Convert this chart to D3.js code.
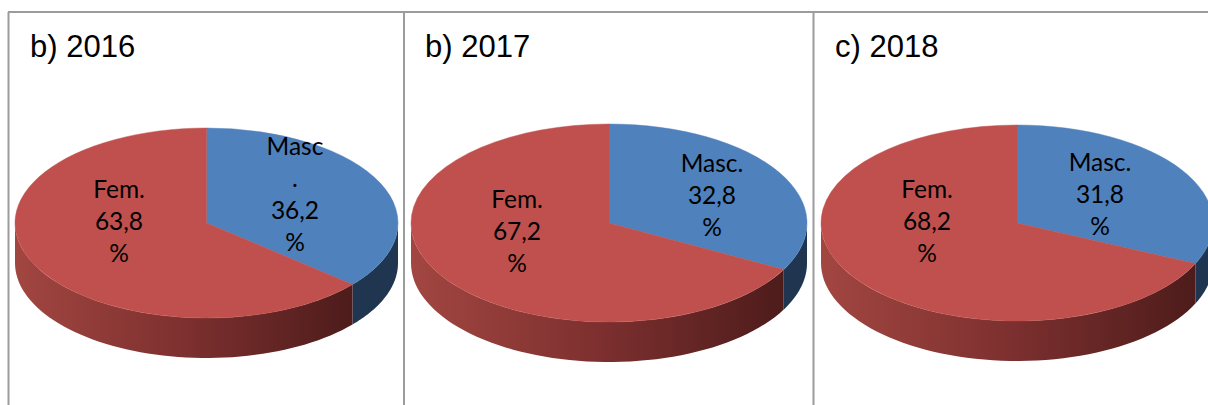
<!DOCTYPE html>
<html>
<head>
<meta charset="utf-8">
<title>2016 - 2018</title>
<script src="https://cdnjs.cloudflare.com/ajax/libs/d3/7.8.5/d3.min.js"></script>
<style>
	html, body { margin: 0; padding: 0; background: #fff; overflow: hidden; }
	svg { display: block; }
	.panel_title { font-family: "Liberation Sans", Arial, sans-serif; font-size: 31px; fill: #000; }
	.slice_label { font-family: Lato, Carlito, sans-serif; font-size: 24.5px; fill: #000; text-anchor: middle; }
</style>
</head>
<body>
<figure id="pies" style="margin:0"></figure>
<script>
// values
var years = [ "b) 2016", "b) 2017", "c) 2018" ];
var categories = [ "Masc.", "Fem." ];
var mascValues = [ 36.2, 32.8, 31.8 ];
var femValues = [ 63.8, 67.2, 68.2 ];
var mascLabels = [ [ "Masc", ".", "36,2", "%" ], [ "Masc.", "32,8", "%" ], [ "Masc.", "31,8", "%" ] ];
var femLabels = [ [ "Fem.", "63,8", "%" ], [ "Fem.", "67,2", "%" ], [ "Fem.", "68,2", "%" ] ];

var dimensions = { width: 1208, height: 405, depth: 40, lineHeight: 32 };

// where each pie sits
var layout = [
	{ cx: 206.5, cy: 223, rx: 191.5, ry: 95, titleX: 30, mascX: 295, mascY: 155, femX: 119, femY: 198 },
	{ cx: 609, cy: 223, rx: 198, ry: 99, titleX: 425, mascX: 712, mascY: 172, femX: 517, femY: 208 },
	{ cx: 1017, cy: 223, rx: 196, ry: 98, titleX: 835, mascX: 1100, mascY: 171, femX: 927, femY: 198 }
];

var topColors = d3.scaleOrdinal().domain( categories ).range( [ "#4f81bd", "#c0504d" ] );

var svg = d3.select( "figure#pies" )
	.append( "svg" )
	.attr( "width", dimensions.width )
	.attr( "height", dimensions.height )
	.attr( "viewBox", `0 0 ${dimensions.width} ${dimensions.height}` );

// dark shading on the red wall, lighter on the left
var gradient = svg.append( "defs" )
	.append( "linearGradient" )
	.attr( "id", "femWall" );
gradient.append( "stop" ).attr( "offset", "0%" ).attr( "stop-color", "#a24641" );
gradient.append( "stop" ).attr( "offset", "50%" ).attr( "stop-color", "#7d302f" );
gradient.append( "stop" ).attr( "offset", "100%" ).attr( "stop-color", "#4d1c1b" );

// the table frame
var frame = svg.append( "g" )
	.attr( "class", "frame" )
	.attr( "stroke", "#9c9c9c" )
	.attr( "stroke-width", 2 );
frame.append( "line" ).attr( "x1", 8 ).attr( "x2", 1208 ).attr( "y1", 12 ).attr( "y2", 12 );
[ 8.5, 404, 813.5 ].forEach( function( x ) {
	frame.append( "line" ).attr( "x1", x ).attr( "x2", x ).attr( "y1", 12 ).attr( "y2", 405 );
} );

var pie = d3.pie()
	.value( d => d.value )
	.sortValues( null )
	.sort( null );

// wall of the pie between two angles (0 = 12 o'clock, clockwise)
function wallPath( a0, a1, p ) {
	var steps = d3.range( 0, 61 ).map( i => a0 + ( a1 - a0 ) * i / 60 );
	var top = steps.map( a => [ p.rx * Math.sin( a ), -p.ry * Math.cos( a ) ] );
	var bottom = steps.slice().reverse().map( a => [ p.rx * Math.sin( a ), -p.ry * Math.cos( a ) + dimensions.depth ] );
	return d3.line()( top.concat( bottom ) ) + "Z";
}

years.forEach( function( year, i ) {
	var p = layout[ i ];
	var data = [
		{ name: categories[ 0 ], value: mascValues[ i ], label: mascLabels[ i ], x: p.mascX, y: p.mascY },
		{ name: categories[ 1 ], value: femValues[ i ], label: femLabels[ i ], x: p.femX, y: p.femY }
	];
	var slices = pie( data );
	var split = slices[ 0 ].endAngle;

	var g = svg.append( "g" )
		.attr( "transform", `translate(${p.cx},${p.cy})` );

	// front walls first, the top face goes over them
	g.append( "path" )
		.attr( "d", wallPath( Math.PI / 2, split, p ) )
		.attr( "fill", "#1f3550" );
	g.append( "path" )
		.attr( "d", wallPath( split, Math.PI * 1.5, p ) )
		.attr( "fill", "url(#femWall)" );

	// circle arc squashed into an ellipse
	var arc = d3.arc().innerRadius( 0 ).outerRadius( p.rx );
	g.append( "g" )
		.attr( "transform", `scale(1,${p.ry / p.rx})` )
		.selectAll( "path" )
		.data( slices )
		.enter()
		.append( "path" )
		.attr( "d", arc )
		.attr( "fill", d => topColors( d.data.name ) )
		// hides the hairline between face and wall
		.attr( "stroke", d => topColors( d.data.name ) )
		.attr( "stroke-width", 0.6 );

	svg.append( "text" )
		.attr( "class", "panel_title" )
		.attr( "x", p.titleX )
		.attr( "y", 57 )
		.text( year );

	data.forEach( function( d ) {
		svg.selectAll( null )
			.data( d.label )
			.enter()
			.append( "text" )
			.attr( "class", "slice_label" )
			.attr( "x", d.x )
			.attr( "y", ( t, j ) => d.y + j * dimensions.lineHeight )
			.text( t => t );
	} );
} );
</script>
</body>
</html>
